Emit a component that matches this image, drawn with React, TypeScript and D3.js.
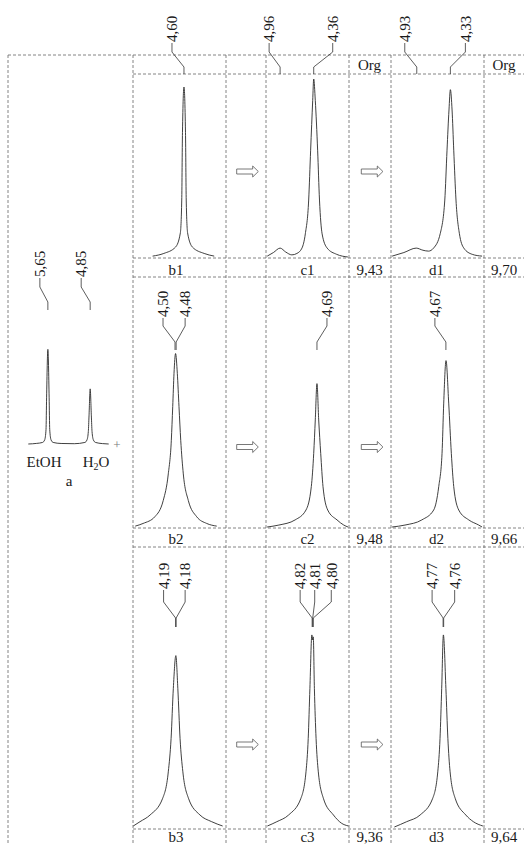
import React from 'react'
import * as d3 from 'd3'

type Pt = [number, number] // [ppm, relative intensity]

// --- traces (ppm, intensity 0..1 of the row height) ---
const spectrumA: Pt[] = [
  [6.02, 0.0], [5.86, 0.006], [5.75, 0.015], [5.71, 0.04], [5.685, 0.14], [5.674, 0.45],
  [5.65, 0.91], [5.626, 0.45], [5.615, 0.14], [5.59, 0.04], [5.55, 0.015], [5.4, 0.005],
  [5.15, 0.003], [4.95, 0.015], [4.91, 0.04], [4.885, 0.12], [4.872, 0.27], [4.85, 0.53],
  [4.828, 0.27], [4.815, 0.12], [4.79, 0.04], [4.75, 0.015], [4.62, 0.004], [4.5, 0.0],
]
const spectrumB1: Pt[] = [
  [5.16, 0.005], [4.96, 0.02], [4.75, 0.056], [4.665, 0.135], [4.64, 0.32], [4.627, 0.7],
  [4.6, 0.955], [4.573, 0.7], [4.56, 0.32], [4.535, 0.135], [4.45, 0.056], [4.24, 0.02], [4.06, 0.005],
]
const spectrumC1: Pt[] = [
  [5.19, 0.005], [5.08, 0.025], [4.96, 0.05], [4.86, 0.028], [4.75, 0.012], [4.66, 0.02],
  [4.57, 0.05], [4.51, 0.13], [4.45, 0.32], [4.415, 0.6], [4.378, 0.88], [4.36, 1.0],
  [4.332, 0.88], [4.29, 0.6], [4.257, 0.32], [4.21, 0.13], [4.12, 0.05], [3.95, 0.015], [3.75, 0.0],
]
const spectrumD1: Pt[] = [
  [5.37, 0.005], [5.16, 0.025], [4.94, 0.05], [4.82, 0.038], [4.72, 0.033], [4.63, 0.05],
  [4.51, 0.133], [4.43, 0.32], [4.39, 0.6], [4.355, 0.826], [4.33, 0.94], [4.3, 0.826],
  [4.27, 0.6], [4.23, 0.32], [4.17, 0.133], [4.09, 0.05], [3.94, 0.015], [3.765, 0.005],
]
const spectrumB2: Pt[] = [
  [5.21, 0.005], [5.07, 0.02], [4.86, 0.058], [4.71, 0.15], [4.62, 0.3], [4.566, 0.49],
  [4.541, 0.68], [4.518, 0.868], [4.49, 0.98], [4.459, 0.868], [4.429, 0.68], [4.398, 0.49],
  [4.352, 0.3], [4.263, 0.15], [4.113, 0.058], [3.934, 0.02], [3.755, 0.005],
]
const spectrumC2: Pt[] = [
  [5.58, 0.0], [5.37, 0.011], [5.08, 0.04], [4.886, 0.096], [4.791, 0.228], [4.748, 0.416],
  [4.72, 0.605], [4.69, 0.81], [4.659, 0.605], [4.623, 0.416], [4.582, 0.228], [4.498, 0.096],
  [4.332, 0.04], [4.212, 0.011], [4.136, 0.0],
]
const spectrumD2: Pt[] = [
  [5.63, 0.0], [5.4, 0.011], [5.1, 0.04], [4.888, 0.096], [4.798, 0.228], [4.739, 0.416],
  [4.709, 0.7], [4.668, 0.94], [4.62, 0.7], [4.573, 0.416], [4.53, 0.228], [4.441, 0.096],
  [4.262, 0.04], [4.084, 0.011], [4.025, 0.0],
]
const spectrumB3: Pt[] = [
  [4.945, 0.005], [4.825, 0.027], [4.645, 0.061], [4.42, 0.146], [4.32, 0.28], [4.27, 0.45],
  [4.23, 0.704], [4.185, 0.87], [4.15, 0.704], [4.11, 0.45], [4.06, 0.28], [3.96, 0.146],
  [3.755, 0.061], [3.546, 0.027], [3.35, 0.005],
]
const spectrumC3: Pt[] = [
  [5.62, 0.005], [5.45, 0.027], [5.24, 0.061], [5.02, 0.146], [4.93, 0.28], [4.89, 0.45],
  [4.86, 0.704], [4.825, 0.975], [4.812, 0.95], [4.8, 0.965], [4.78, 0.704], [4.75, 0.45],
  [4.71, 0.28], [4.62, 0.146], [4.44, 0.061], [4.3, 0.02], [4.17, 0.005],
]
const spectrumD3: Pt[] = [
  [5.64, 0.0], [5.42, 0.027], [5.18, 0.061], [4.955, 0.146], [4.865, 0.28], [4.825, 0.45],
  [4.795, 0.704], [4.765, 0.975], [4.72, 0.704], [4.685, 0.45], [4.645, 0.28], [4.555, 0.146],
  [4.365, 0.061], [4.23, 0.027], [4.06, 0.005],
]

const panelNames = ['b1', 'c1', 'd1', 'b2', 'c2', 'd2', 'b3', 'c3', 'd3']
const panelSpectra = [spectrumB1, spectrumC1, spectrumD1, spectrumB2, spectrumC2, spectrumD2, spectrumB3, spectrumC3, spectrumD3]
// ppm window shown in each panel (left edge, right edge)
const ppmWindows: [number, number][] = [
  [5.51, 3.85], [5.212, 3.73], [5.39, 3.73],
  [5.25, 3.59], [5.6, 4.118], [5.65, 3.99],
  [4.95, 3.29], [5.644, 4.162], [5.7, 4.04],
]
const peakShifts: number[][] = [
  [4.6], [4.96, 4.36], [4.93, 4.33],
  [4.5, 4.48], [4.69], [4.67],
  [4.19, 4.18], [4.82, 4.81, 4.8], [4.77, 4.76],
]
const aWindow: [number, number] = [6.02, 4.5]
const aShifts = [5.65, 4.85]
const orgShifts = [[9.43, 9.7], [9.48, 9.66], [9.36, 9.64]]

// --- layout ---
const W = 524
const H = 845
const FONT = '"Liberation Serif", "Times New Roman", serif'
const INK = '#1a1a1a'
const GRID = '#666'
const COLS = { b: [133, 226], c: [266, 349], d: [391, 484] } as Record<string, number[]>
const LABEL_X = { b: 176, c: 307.5, d: 436.5 } as Record<string, number>
const VAL_X = [369.5, 504]
const ARROW_X = [236.7, 361.3]
const ROWS = [
  { base: 257, full: 79, text: 274.5, arrow: 171.5, textStart: 42, lead: [43, 52, 67, 74] },
  { base: 527, full: 350, text: 543.5, arrow: 447, textStart: 317, lead: [318, 326, 342, 350] },
  { base: 827, full: 630, text: 842, arrow: 744.5, textStart: 589, lead: [590, 602, 618, 627] },
]
const LABEL_DX = [[-12], [-11, 19], [-12, 15], [-12, 9], [10], [-11], [-12, 9], [-12, 2, 18], [-11, 11]]
const A_DX = [-8, -9]
const A_ROW = { base: 444, full: 340, textStart: 277, lead: [278, 287, 302, 310] }
const GRID_X = [8, 133, 226, 266, 349, 391, 484]
const GRID_Y = [74, 258, 277, 528, 547, 829]

const fmt = (v: number) => d3.format('.2f')(v).replace('.', ',')

function Leader({ lx, px, textStart, lead, label }: { lx: number; px: number; textStart: number; lead: number[]; label: string }) {
  return (
    <g>
      <path
        d={`M${lx},${lead[0]}V${lead[1]}L${px},${lead[2]}V${lead[3]}`}
        fill="none"
        stroke="#333"
        strokeWidth={0.8}
      />
      <text
        x={lx}
        y={textStart}
        dy="0.35em"
        transform={`rotate(-90,${lx},${textStart})`}
        fontSize={15}
        fill={INK}
      >
        {label}
      </text>
    </g>
  )
}

function Arrow({ x, y }: { x: number; y: number }) {
  return (
    <path
      transform={`translate(${x},${y})`}
      d="M0,-2.5H16V-5.5L21.6,0L16,5.5V2.5H0Z"
      fill="#fff"
      stroke="#555"
      strokeWidth={0.8}
    />
  )
}

export default function App() {
  const panels = panelNames.map((name, i) => {
    const r = Math.floor(i / 3)
    const colKey = name[0]
    const row = ROWS[r]
    const x = d3.scaleLinear().domain(ppmWindows[i]).range(COLS[colKey])
    const y = d3.scaleLinear().domain([0, 1]).range([row.base, row.full])
    const line = d3.line<Pt>().x((d) => x(d[0])).y((d) => y(d[1])).curve(d3.curveMonotoneX)
    return { name, r, colKey, row, x, line, shifts: peakShifts[i], dx: LABEL_DX[i], data: panelSpectra[i] }
  })

  const ax = d3.scaleLinear().domain(aWindow).range([28.3, 108.7])
  const ay = d3.scaleLinear().domain([0, 1]).range([A_ROW.base, A_ROW.full])
  const aLine = d3.line<Pt>().x((d) => ax(d[0])).y((d) => ay(d[1])).curve(d3.curveMonotoneX)

  return (
    <svg
      width={W}
      height={H}
      style={{ position: 'absolute', left: 0, top: 0, background: '#fff' }}
      fontFamily={FONT}
    >
      <rect width={W} height={H} fill="#fff" />
      {/* dashed frame */}
      <g stroke={GRID} strokeWidth={0.8} strokeDasharray="3,2" fill="none">
        <line x1={8} x2={W} y1={55} y2={55} />
        {GRID_Y.map((gy) => (
          <line key={gy} x1={133} x2={W} y1={gy} y2={gy} />
        ))}
        {GRID_X.map((gx) => (
          <line key={gx} x1={gx} x2={gx} y1={55} y2={H} />
        ))}
      </g>

      {/* header */}
      {VAL_X.map((vx) => (
        <text key={vx} x={vx} y={69.5} textAnchor="middle" fontSize={15} fill={INK}>
          Org
        </text>
      ))}

      {/* starting mixture a */}
      <path d={aLine(spectrumA) || ''} fill="none" stroke="#2a2a2a" strokeWidth={0.9} />
      {aShifts.map((s, k) => (
        <Leader
          key={s}
          lx={ax(s) + A_DX[k]}
          px={ax(s)}
          textStart={A_ROW.textStart}
          lead={A_ROW.lead}
          label={fmt(s)}
        />
      ))}
      <text x={117} y={448.5} textAnchor="middle" fontSize={13} fill="#777">
        +
      </text>
      <text x={44} y={467} textAnchor="middle" fontSize={15} fill={INK}>
        EtOH
      </text>
      <text x={96} y={467} textAnchor="middle" fontSize={15} fill={INK}>
        H
        <tspan dy={3} fontSize={10}>
          2
        </tspan>
        <tspan dy={-3}>O</tspan>
      </text>
      <text x={69} y={486} textAnchor="middle" fontSize={15} fill={INK}>
        a
      </text>

      {/* panels b/c/d */}
      {panels.map((p) => (
        <g key={p.name}>
          <path d={p.line(p.data) || ''} fill="none" stroke="#2a2a2a" strokeWidth={0.9} />
          {p.shifts.map((s, k) => (
            <Leader
              key={s}
              lx={p.x(s) + p.dx[k]}
              px={p.x(s)}
              textStart={p.row.textStart}
              lead={p.row.lead}
              label={fmt(s)}
            />
          ))}
          <text x={LABEL_X[p.colKey]} y={p.row.text} textAnchor="middle" fontSize={15} fill={INK}>
            {p.name}
          </text>
        </g>
      ))}

      {/* Org values and arrows per row */}
      {ROWS.map((row, r) => (
        <g key={r}>
          {orgShifts[r].map((v, k) => (
            <text key={k} x={VAL_X[k]} y={row.text} textAnchor="middle" fontSize={15} fill={INK}>
              {fmt(v)}
            </text>
          ))}
          {ARROW_X.map((axp) => (
            <Arrow key={axp} x={axp} y={row.arrow} />
          ))}
        </g>
      ))}
    </svg>
  )
}
